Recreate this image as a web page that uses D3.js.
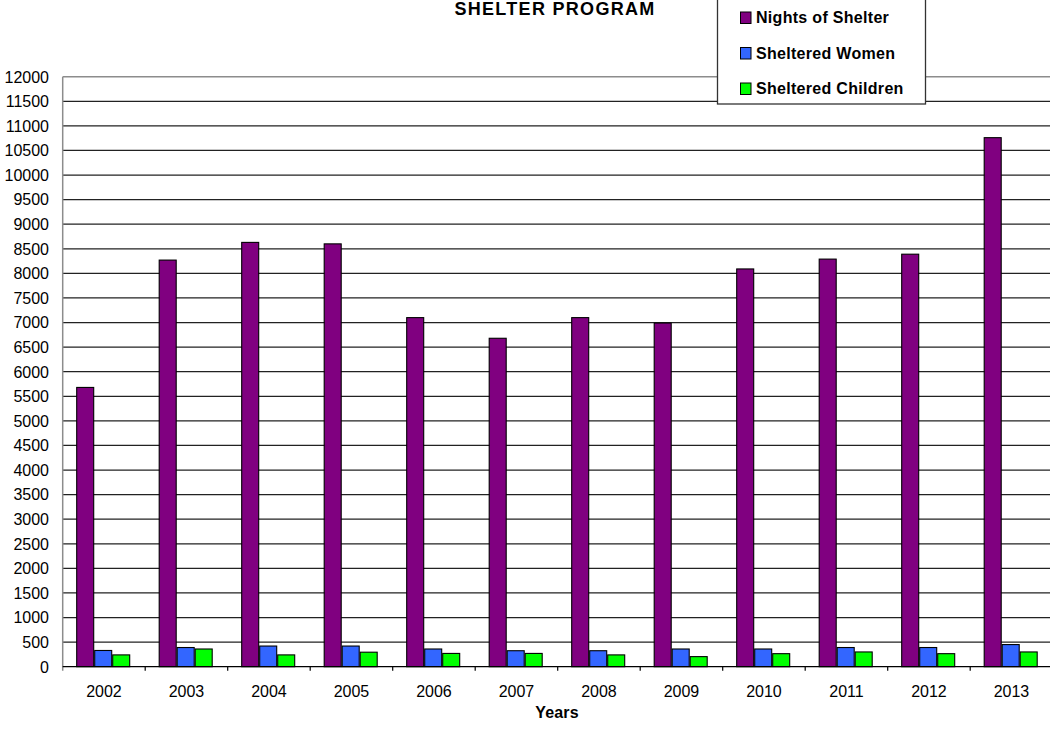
<!DOCTYPE html>
<html>
<head>
<meta charset="utf-8">
<script src="https://cdn.jsdelivr.net/npm/d3@7/dist/d3.min.js"></script>
<style>
  html, body { margin: 0; padding: 0; background: #fff; }
  svg { display: block; font-family: "Liberation Sans", Arial, sans-serif; }
</style>
</head>
<body>
<svg id="chart" width="1050" height="732"></svg>
<script>
// Shelter program statistics per year
const years = ["2002","2003","2004","2005","2006","2007","2008","2009","2010","2011","2012","2013"];
const seriesNames = ["Nights of Shelter", "Sheltered Women", "Sheltered Children"];
const nightsOfShelter   = [5680, 8270, 8630, 8600, 7100, 6680, 7100, 6990, 8090, 8290, 8390, 10760];
const shelteredWomen    = [330, 390, 420, 420, 360, 325, 325, 360, 360, 390, 390, 450];
const shelteredChildren = [240, 360, 240, 295, 270, 270, 240, 205, 265, 300, 265, 300];
const yTicks = d3.range(0, 12001, 500);
const seriesColors = ["#800080", "#3366FF", "#00FF00"];

const svg = d3.select("#chart");
const plotLeft = 62.7, plotRight = 1052.7, plotTop = 76.7, plotBottom = 666.7;

const x0 = d3.scaleBand().domain(years).range([plotLeft, plotRight]).paddingInner(0).paddingOuter(0);
const x1 = d3.scaleBand().domain(seriesNames).range([13.5, 13.5 + 54]);
const y = d3.scaleLinear().domain([0, 12000]).range([plotBottom, plotTop]);
const color = d3.scaleOrdinal().domain(seriesNames).range(seriesColors);

const values = [nightsOfShelter, shelteredWomen, shelteredChildren];
const rows = years.map((yr, i) => ({
  year: yr,
  items: seriesNames.map((s, k) => ({ series: s, value: values[k][i] }))
}));

// horizontal gridlines
svg.append("g")
  .selectAll("line")
  .data(yTicks.filter(t => t > 0))
  .join("line")
  .attr("x1", plotLeft).attr("x2", 1050)
  .attr("y1", d => y(d)).attr("y2", d => y(d))
  .attr("stroke", d => d === 12000 ? "#8c8c8c" : "#222")
  .attr("stroke-width", d => d === 12000 ? 1.5 : 1.2);

// y tick labels
svg.append("g")
  .selectAll("text")
  .data(yTicks)
  .join("text")
  .attr("x", 49)
  .attr("y", d => y(d) + 5.8)
  .attr("text-anchor", "end")
  .attr("font-size", 16)
  .attr("fill", "#000")
  .text(d => d);

// bars
svg.append("g")
  .selectAll("g")
  .data(rows)
  .join("g")
  .attr("transform", d => `translate(${x0(d.year)},0)`)
  .selectAll("rect")
  .data(d => d.items)
  .join("rect")
  .attr("x", d => x1(d.series) + 0.5)
  .attr("width", x1.bandwidth() - 1)
  .attr("y", d => y(d.value))
  .attr("height", d => y(0) - y(d.value))
  .attr("fill", d => color(d.series))
  .attr("stroke", "#000")
  .attr("stroke-width", 1.1);

// left axis line
svg.append("line")
  .attr("x1", plotLeft).attr("x2", plotLeft)
  .attr("y1", plotTop).attr("y2", plotBottom + 4)
  .attr("stroke", "#8c8c8c").attr("stroke-width", 1.5);

// x axis
const gx = svg.append("g").attr("transform", `translate(0,${plotBottom})`);
gx.append("line")
  .attr("x1", plotLeft).attr("x2", 1050)
  .attr("y1", 0).attr("y2", 0)
  .attr("stroke", "#000").attr("stroke-width", 1.3);
gx.selectAll("line.tick")
  .data(years.slice(1))
  .join("line")
  .attr("class", "tick")
  .attr("x1", d => x0(d)).attr("x2", d => x0(d))
  .attr("y1", 0).attr("y2", 4)
  .attr("stroke", "#000").attr("stroke-width", 1.2);
gx.selectAll("text.yr")
  .data(years)
  .join("text")
  .attr("class", "yr")
  .attr("x", d => x0(d) + x0.bandwidth() / 2)
  .attr("y", 30.5)
  .attr("text-anchor", "middle")
  .attr("font-size", 16)
  .attr("fill", "#000")
  .text(d => d);

// axis title
svg.append("text")
  .attr("x", 557).attr("y", 718)
  .attr("text-anchor", "middle")
  .attr("font-size", 16).attr("font-weight", "bold")
  .attr("letter-spacing", 0.2)
  .text("Years");

// chart title
svg.append("text")
  .attr("x", 555).attr("y", 14.5)
  .attr("text-anchor", "middle")
  .attr("font-size", 18).attr("font-weight", "bold")
  .attr("letter-spacing", 1.3)
  .text("SHELTER PROGRAM");

// legend
const legend = svg.append("g");
legend.append("rect")
  .attr("x", 717.5).attr("y", -1)
  .attr("width", 208).attr("height", 105)
  .attr("fill", "#fff").attr("stroke", "#333").attr("stroke-width", 1.3);
const li = legend.selectAll("g.item")
  .data(seriesNames)
  .join("g")
  .attr("class", "item")
  .attr("transform", (d, i) => `translate(0,${23 + i * 35.5})`);
li.append("rect")
  .attr("x", 740.5).attr("y", -11)
  .attr("width", 10.5).attr("height", 11.5)
  .attr("fill", d => color(d))
  .attr("stroke", "#000").attr("stroke-width", 1);
li.append("text")
  .attr("x", 756).attr("y", 0)
  .attr("font-size", 16).attr("font-weight", "bold")
  .attr("letter-spacing", 0.3)
  .text(d => d);
</script>
</body>
</html>
